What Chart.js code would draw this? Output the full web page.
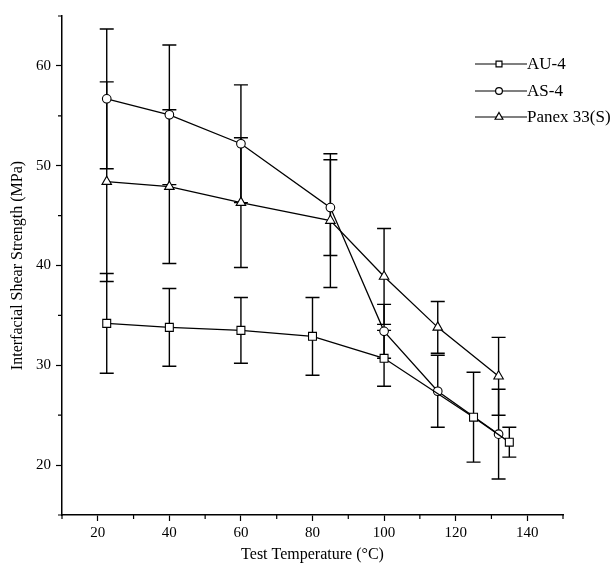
<!DOCTYPE html>
<html>
<head>
<meta charset="utf-8">
<script src="https://cdn.jsdelivr.net/npm/chart.js@4"></script>
<style>
  html, body { margin: 0; padding: 0; background: #fff; }
  #wrap { width: 612px; height: 572px; }
</style>
</head>
<body>
<div id="wrap"><canvas id="shearChart"></canvas></div>
<script>
// values
const au4Temp = [22.5, 40, 60, 80, 100, 125, 135];
const au4Strength = [34.2, 33.8, 33.5, 32.9, 30.7, 24.8, 22.3];
const au4Error = [5.0, 3.9, 3.3, 3.9, 2.8, 4.5, 1.5];

const as4Temp = [22.5, 40, 60, 85, 100, 115, 132];
const as4Strength = [56.7, 55.1, 52.2, 45.8, 33.4, 27.4, 23.1];
const as4Error = [7.0, 7.0, 5.9, 4.8, 2.7, 3.6, 4.5];

const panexTemp = [22.5, 40, 60, 85, 100, 115, 132];
const panexStrength = [48.4, 47.9, 46.3, 44.5, 38.9, 33.8, 28.9];
const panexError = [10.0, 7.7, 6.5, 6.7, 4.8, 2.6, 3.9];

const xTicks = [20, 40, 60, 80, 100, 120, 140];
const xMinorTicks = [10, 30, 50, 70, 90, 110, 130, 150];
const yTicks = [20, 30, 40, 50, 60];
const yMinorTicks = [15, 25, 35, 45, 55, 65];

const FONT = "'Liberation Serif', 'DejaVu Serif', serif";

const toPoints = (xs, ys, es) => xs.map((x, i) => ({ x: x, y: ys[i], err: es[i] }));

const makeSet = (label, xs, ys, es, style, radius, legendRadius) => ({
  label: label,
  data: toPoints(xs, ys, es),
  showLine: true,
  tension: 0,
  borderColor: '#000',
  borderWidth: 1.3,
  pointStyle: style,
  pointRadius: radius,
  pointBorderWidth: 1.1,
  pointBackgroundColor: '#fff',
  pointBorderColor: '#000',
  legendRadius: legendRadius,
});

// error bars go under the markers
const errorBars = {
  id: 'errorBars',
  beforeDatasetsDraw(chart) {
    const ctx = chart.ctx;
    const yScale = chart.scales.y;
    ctx.save();
    ctx.strokeStyle = '#000';
    ctx.lineWidth = 1.4;
    chart.data.datasets.forEach((ds, di) => {
      const meta = chart.getDatasetMeta(di);
      ds.data.forEach((p, i) => {
        const px = meta.data[i].x;
        const top = yScale.getPixelForValue(p.y + p.err);
        const bot = yScale.getPixelForValue(p.y - p.err);
        ctx.beginPath();
        ctx.moveTo(px, top); ctx.lineTo(px, bot);
        ctx.moveTo(px - 7, top); ctx.lineTo(px + 7, top);
        ctx.moveTo(px - 7, bot); ctx.lineTo(px + 7, bot);
        ctx.stroke();
      });
    });
    ctx.restore();
  }
};

// small unlabeled ticks
const minorTicks = {
  id: 'minorTicks',
  afterDraw(chart) {
    const { ctx, scales: { x, y }, chartArea } = chart;
    ctx.save();
    ctx.strokeStyle = '#000';
    ctx.lineWidth = 1.2;
    ctx.beginPath();
    xMinorTicks.forEach(v => {
      const px = x.getPixelForValue(v);
      ctx.moveTo(px, chartArea.bottom); ctx.lineTo(px, chartArea.bottom + 4);
    });
    yMinorTicks.forEach(v => {
      const py = y.getPixelForValue(v);
      ctx.moveTo(chartArea.left, py); ctx.lineTo(chartArea.left - 4, py);
    });
    ctx.stroke();
    ctx.restore();
  }
};

// legend in the top right corner
const sideLegend = {
  id: 'sideLegend',
  afterDraw(chart) {
    const ctx = chart.ctx;
    const rows = [64, 91, 117];
    ctx.save();
    chart.data.datasets.forEach((ds, i) => {
      const y = rows[i];
      ctx.strokeStyle = '#000';
      ctx.lineWidth = 1.2;
      ctx.beginPath();
      ctx.moveTo(475, y); ctx.lineTo(527, y);
      ctx.stroke();
      ctx.fillStyle = '#fff';
      Chart.helpers.drawPoint(ctx, {
        pointStyle: ds.pointStyle, radius: ds.legendRadius, borderWidth: 1, rotation: 0
      }, 499, y);
      ctx.fillStyle = '#000';
      ctx.font = '17px ' + FONT;
      ctx.textBaseline = 'middle';
      ctx.textAlign = 'left';
      ctx.fillText(ds.label, 527, y + 1);
    });
    ctx.restore();
  }
};

new Chart(document.getElementById('shearChart'), {
  type: 'scatter',
  data: {
    datasets: [
      makeSet('AU-4', au4Temp, au4Strength, au4Error, 'rect', 5.6, 4.2),
      makeSet('AS-4', as4Temp, as4Strength, as4Error, 'circle', 4.3, 3.4),
      makeSet('Panex 33(S)', panexTemp, panexStrength, panexError, 'triangle', 5.5, 4.5),
    ]
  },
  plugins: [errorBars, minorTicks, sideLegend],
  options: {
    responsive: true,
    maintainAspectRatio: false,
    animation: false,
    layout: { padding: { top: 16, right: 49, left: 0, bottom: 0 } },
    plugins: {
      legend: { display: false },
      tooltip: { enabled: false },
    },
    scales: {
      x: {
        type: 'linear',
        min: 10,
        max: 150,
        afterBuildTicks: (axis) => { axis.ticks = xTicks.map(v => ({ value: v })); },
        afterFit: (axis) => { axis.height = 57; },
        grid: { drawOnChartArea: false, tickLength: 6, tickColor: '#000', tickWidth: 1.2 },
        border: { color: '#000', width: 1.5 },
        ticks: { color: '#000', font: { family: FONT, size: 15 }, padding: 3, maxRotation: 0 },
        title: {
          display: true,
          text: 'Test Temperature (°C)',
          color: '#000',
          font: { family: FONT, size: 16 },
          padding: { top: 0, bottom: 8 }
        }
      },
      y: {
        type: 'linear',
        min: 15,
        max: 65,
        afterBuildTicks: (axis) => { axis.ticks = yTicks.map(v => ({ value: v })); },
        afterFit: (axis) => { axis.width = 62; },
        grid: { drawOnChartArea: false, tickLength: 6, tickColor: '#000', tickWidth: 1.2 },
        border: { color: '#000', width: 1.5 },
        ticks: { color: '#000', font: { family: FONT, size: 15 }, padding: 5 },
        title: {
          display: true,
          text: 'Interfacial Shear Strength (MPa)',
          color: '#000',
          font: { family: FONT, size: 16 },
          padding: { top: 8, bottom: 2 }
        }
      }
    }
  }
});
</script>
</body>
</html>
